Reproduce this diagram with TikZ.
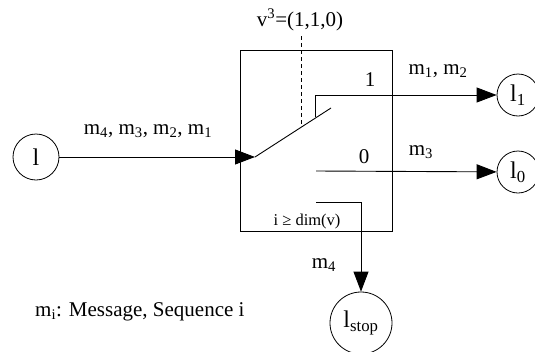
\documentclass[tikz,border=0pt]{standalone}
\usepackage{fontspec}
\setmainfont{Liberation Serif}
\usetikzlibrary{arrows.meta}
\begin{document}
\begin{tikzpicture}[x=1pt,y=-1pt,
  lbl/.style={font=\fontsize{21}{23}\selectfont, inner sep=0},
  small/.style={font=\fontsize{16.5}{18}\selectfont, inner sep=0},
  state/.style={draw, circle, line width=0.8pt, minimum size=42pt, inner sep=0, font=\fontsize{24}{26}\selectfont},
  wire/.style={line width=0.9pt},
  arr/.style={wire, -{Triangle[length=20pt,width=15pt]}},
  framebox/.style={draw, line width=0.9pt, minimum width=152pt, minimum height=181pt, inner sep=0}
]
\useasboundingbox (0,0) rectangle (535,351);
% frame
\node[framebox] (box) at (316,140.5) {};
% states
\node[state, minimum size=46pt] (l) at (36,157) {l};
\node[state] (l1) at (518,95) {l\textsubscript{1}};
\node[state] (l0) at (518,172) {l\textsubscript{0}};
\node[state, minimum size=62pt] (ls) at (361,323) {l\textsubscript{stop}};
% switch
\coordinate (sw0) at (255,157);
\coordinate (sw1) at (331,108);
\coordinate (dtop) at (301,36);
\coordinate (dbot) at (301,126);
\coordinate (u0) at (315,117);
\coordinate (u1) at (315,95);
\coordinate (z0) at (316,171);
\coordinate (s0) at (316,202);
\coordinate (s1) at (361,202);
\draw[arr] (l) -- (sw0);
\draw[wire] (sw0) -- (sw1);
\draw[wire, dash pattern=on 4pt off 3pt] (dtop) -- (dbot);
\draw[wire] (u0) -- (u1);
\draw[arr] (u1) -- (l1);
\draw[arr] (z0) -- (l0);
\draw[wire] (s0) -- (s1);
\draw[arr] (s1) -- (ls);
% labels
\node[lbl] (tv) at (300,20) {v\textsuperscript{3}=(1,1,0)};
\node[lbl] (tin) at (148,131) {m\textsubscript{4}, m\textsubscript{3}, m\textsubscript{2}, m\textsubscript{1}};
\node[lbl] (t1) at (370,80) {1};
\node[lbl] (tm12) at (438,71) {m\textsubscript{1}, m\textsubscript{2}};
\node[lbl] (t0) at (364,157) {0};
\node[lbl] (tm3) at (421,152) {m\textsubscript{3}};
\node[small] (tdim) at (307,222) {i ≥ dim(v)};
\node[lbl] (tm4) at (324,265) {m\textsubscript{4}};
\node[lbl, anchor=west] (leg) at (35,312) {m\textsubscript{i}: Message, Sequence i};
\end{tikzpicture}
\end{document}
